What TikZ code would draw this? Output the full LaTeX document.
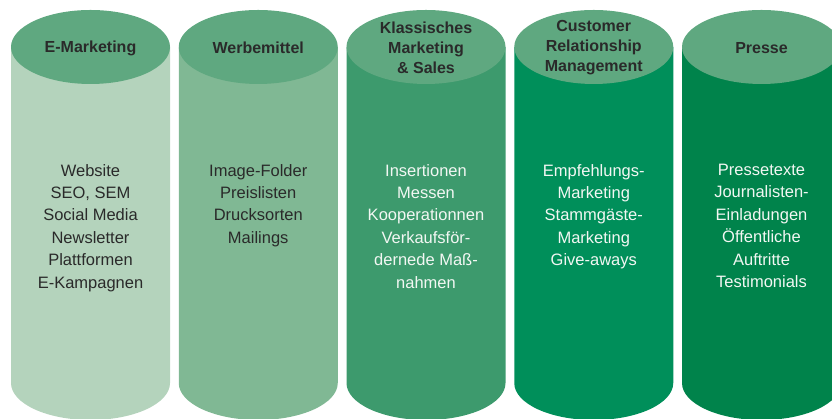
\documentclass[tikz,border=0pt]{standalone}
\usepackage{fontspec}
\setmainfont{Liberation Sans}
\usetikzlibrary{positioning}

\definecolor{cylA}{HTML}{B4D3BC}
\definecolor{cylB}{HTML}{80B894}
\definecolor{cylC}{HTML}{3D9A6D}
\definecolor{cylD}{HTML}{008F5A}
\definecolor{cylE}{HTML}{00834B}
\definecolor{lidgreen}{HTML}{5FA880}
\definecolor{inkdark}{HTML}{2A2A2A}
\definecolor{inklight}{HTML}{F2F7F3}

\tikzset{
  head/.style={font=\fontsize{16}{20}\selectfont\bfseries, text=inkdark, align=center, inner sep=0pt},
  items/.style={font=\fontsize{16.5}{22.4}\selectfont, align=center, inner sep=0pt, anchor=north}
}

\begin{document}
\begin{tikzpicture}[x=1pt,y=1pt]
\useasboundingbox (0,0) rectangle (832,419);
\clip (0,0) rectangle (832,419);

% Cylinders
\foreach \i/\col/\ink/\head/\body in {
  1/cylA/inkdark/{E-Marketing}/{Website\\SEO, SEM\\Social Media\\Newsletter\\Plattformen\\E-Kampagnen},
  2/cylB/inkdark/{Werbemittel}/{Image-Folder\\Preislisten\\Drucksorten\\Mailings},
  3/cylC/inklight/{Klassisches\\Marketing\\\& Sales}/{Insertionen\\Messen\\Kooperationnen\\Verkaufsför-\\dernede Maß-\\nahmen},
  4/cylD/inklight/{Customer\\Relationship\\Management}/{Empfehlungs-\\Marketing\\Stammgäste-\\Marketing\\Give-aways},
  5/cylE/inklight/{Presse}/{Pressetexte\\Journalisten-\\Einladungen\\Öffentliche\\Auftritte\\Testimonials}} {
  \pgfmathsetmacro\cx{90.5+167.75*(\i-1)}
  \fill[\col] (\cx-79.5,372) -- (\cx-79.5,36)
    arc[start angle=180, end angle=360, x radius=79.5, y radius=37]
    -- (\cx+79.5,372) -- cycle;
  % lid
  \fill[lidgreen] (\cx,372) ellipse[x radius=79.5, y radius=37];
  \node[head] (h\i) at (\cx,371) {\head};
  \node[items, text=\ink] (b\i) at (\cx,255) {\body};
}
\end{tikzpicture}
\end{document}
